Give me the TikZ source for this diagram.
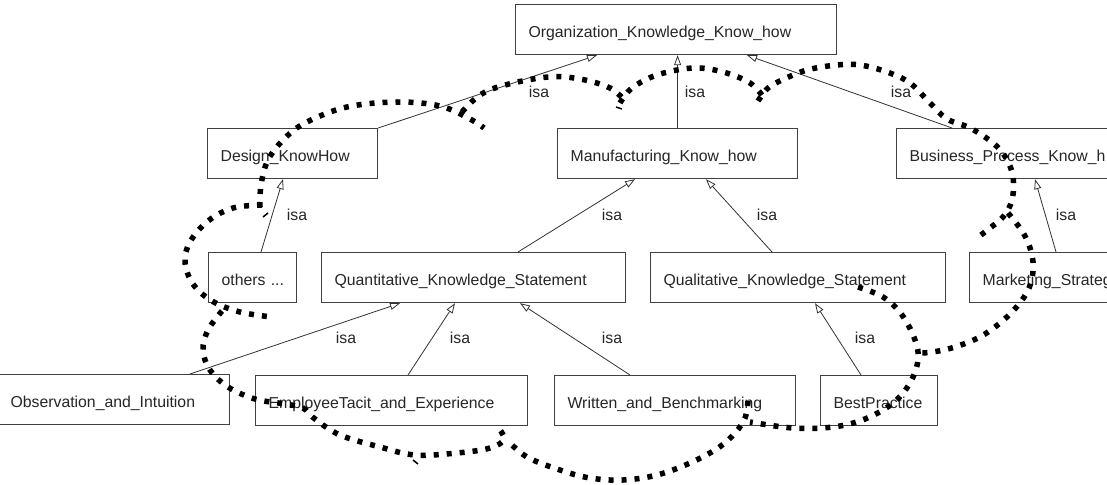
\documentclass[tikz,border=0pt]{standalone}
\usepackage{fontspec}
\setmainfont{Liberation Sans}
\usetikzlibrary{arrows.meta,calc}
\tikzset{
  box/.style={draw=black!75, line width=1.2pt, fill=white, anchor=north west,
    minimum height=50pt, inner xsep=13pt, inner ysep=0pt, align=left,
    text height=15pt, text depth=0pt,
    font=\fontsize{15.8}{18}\selectfont, text=black!85},
  isalabel/.style={font=\fontsize{15.8}{18}\selectfont, text=black!85, inner sep=0pt},
  gen/.style={draw=black!80, line width=0.8pt, -{Triangle[open,length=10pt,width=7pt]}},
  cloudline/.style={line width=5.5pt, dash pattern=on 5pt off 8pt, black},
  tick/.style={line width=1.5pt, black}
}
\begin{document}
\begin{tikzpicture}[x=1pt, y=-1pt]
\useasboundingbox (0,0) rectangle (1107,484);
\fill[white] (0,0) rectangle (1107,484);
\clip (0,0) rectangle (1107,484);

% boxes
\node[box, text width=295pt] (org) at (515,4) {Organization\_Knowledge\_Know\_how};
\node[box, text width=144pt] (design) at (207,128) {Design\_KnowHow};
\node[box, text width=214pt] (manu) at (557,128) {Manufacturing\_Know\_how};
\node[box, text width=246pt] (bus) at (896,128) {Business\_Process\_Know\_h};
\node[box, text width=62pt] (others) at (208,252) {others~...};
\node[box, text width=278pt] (quant) at (321,252) {Quantitative\_Knowledge\_Statement};
\node[box, text width=269pt] (qual) at (650,252) {Qualitative\_Knowledge\_Statement};
\node[box, text width=174pt] (mark) at (969,252) {Marketing\_Strateg};
\node[box, text width=206pt] (obs) at (-3,374) {Observation\_and\_Intuition};
\node[box, text width=246pt] (emp) at (255,375) {EmployeeTacit\_and\_Experience};
\node[box, text width=215pt] (written) at (554,375) {Written\_and\_Benchmarking};
\node[box, text width=91pt] (best) at (820,375) {BestPractice};

% connectors
\draw[gen] (design.north east) -- ($(org.south west)+(82,0)$);
\draw[gen] (manu.north) -- (manu.north |- org.south);
\draw[gen] ($(bus.north west)+(56,0)$) -- ($(org.south west)+(232,0)$);
\draw[gen] ($(others.north west)+(53,0)$) -- ($(design.south west)+(76,0)$);
\draw[gen] ($(quant.north west)+(197,0)$) -- ($(manu.south west)+(78,0)$);
\draw[gen] ($(qual.north west)+(122,0)$) -- ($(manu.south west)+(149,0)$);
\draw[gen] ($(mark.north west)+(87,0)$) -- ($(bus.south west)+(139,0)$);
\draw[gen] ($(obs.north west)+(193,0)$) -- ($(quant.south west)+(79,0)$);
\draw[gen] ($(emp.north west)+(153,0)$) -- ($(quant.south west)+(134,0)$);
\draw[gen] ($(written.north west)+(76,0)$) -- ($(quant.south west)+(199,0)$);
\draw[gen] ($(best.north west)+(41,0)$) -- ($(qual.south west)+(165,0)$);

% labels
\node[isalabel] (l1) at (539,92) {isa};
\node[isalabel] (l2) at (695,92) {isa};
\node[isalabel] (l3) at (901,92) {isa};
\node[isalabel] (l4) at (297,215) {isa};
\node[isalabel] (l5) at (612,215) {isa};
\node[isalabel] (l6) at (767,215) {isa};
\node[isalabel] (l7) at (1066,215) {isa};
\node[isalabel] (l8) at (346,338) {isa};
\node[isalabel] (l9) at (460,338) {isa};
\node[isalabel] (l10) at (612,338) {isa};
\node[isalabel] (l11) at (865,338) {isa};

% dotted cloud
\draw[cloudline] plot[smooth, tension=0.6] coordinates {(260,207) (261,185) (268,160) (285,138) (307,122) (347,107) (397,102) (440,106) (470,119) (484,128)};
\draw[cloudline] plot[smooth, tension=0.6] coordinates {(262,205) (233,208) (208,221) (190,242) (185,262) (193,284) (212,301) (240,312) (272,317)};
\draw[cloudline] plot[smooth, tension=0.6] coordinates {(462,112) (480,95) (505,85) (548,77) (580,79) (610,88) (626,102)};
\draw[cloudline] plot[smooth, tension=0.6] coordinates {(620,103) (632,88) (657,75) (693,68) (723,72) (750,83) (764,98)};
\draw[cloudline] plot[smooth, tension=0.6] coordinates {(758,101) (768,88) (782,80) (807,70) (837,65) (860,65) (887,72) (910,83) (930,103) (947,119) (970,128) (993,143) (1006,158) (1013,177) (1012,200) (1003,217) (990,228) (977,238)};
\draw[cloudline] plot[smooth, tension=0.6] coordinates {(1008,213) (1025,236) (1033,262) (1029,288) (1012,312) (985,334) (958,346) (933,352) (917,353)};
\draw[cloudline] plot[smooth, tension=0.6] coordinates {(858,287) (883,297) (902,315) (915,340) (918,360) (910,383) (893,403) (865,419) (833,427) (793,428) (750,422)};
\draw[cloudline] plot[smooth, tension=0.6] coordinates {(748,401) (745,418) (735,433) (718,448) (690,463) (657,475) (623,480) (590,478) (560,470) (527,457) (507,440)};
\draw[cloudline] plot[smooth, tension=0.6] coordinates {(222,311) (208,330) (203,350) (210,370) (228,387) (255,399) (285,404) (303,408) (315,419) (340,435) (380,447) (415,455) (457,453) (490,448) (504,439) (497,426)};

% small stray ticks
\draw[tick] (616,107) -- (622,109);
\draw[tick] (263,217) -- (268,213);
\draw[tick] (413,460) -- (418,464);
\end{tikzpicture}
\end{document}
